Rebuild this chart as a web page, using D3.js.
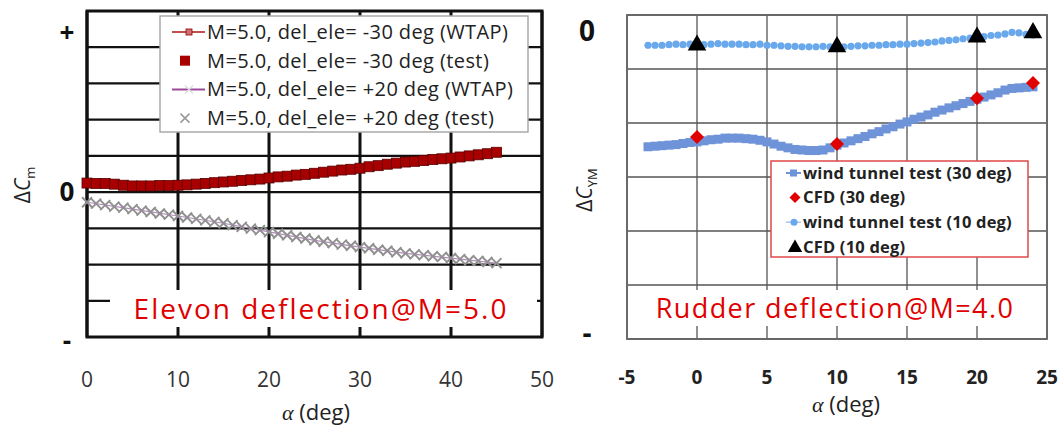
<!DOCTYPE html>
<html>
<head>
<meta charset="utf-8">
<script src="https://cdn.jsdelivr.net/npm/d3@7"></script>
<style>
  body { margin: 0; background: #fff; }
  svg { display: block; font-family: "Open Sans", sans-serif; }
</style>
</head>
<body>
<svg id="chart"></svg>
<script>
// ---- left panel: elevon deflection @ M=5.0 ----
const alphaElevon = [0,1,2,3,4,5,6,7,8,9,10,11,12,13,14,15,16,17,18,19,20,21,22,23,24,25,26,27,28,29,30,31,32,33,34,35,36,37,38,39,40,41,42,43,44,45];
const elevonNeg30Test = [0.25,0.24,0.24,0.22,0.19,0.17,0.17,0.17,0.18,0.18,0.19,0.20,0.22,0.24,0.26,0.28,0.30,0.32,0.34,0.36,0.39,0.42,0.44,0.47,0.49,0.52,0.55,0.58,0.61,0.63,0.66,0.70,0.73,0.77,0.80,0.83,0.85,0.87,0.90,0.92,0.94,0.97,1.00,1.03,1.06,1.10];
const elevonPos20Test = [-0.28,-0.32,-0.36,-0.40,-0.43,-0.47,-0.51,-0.55,-0.59,-0.62,-0.66,-0.70,-0.74,-0.78,-0.82,-0.86,-0.91,-0.96,-1.01,-1.05,-1.10,-1.15,-1.19,-1.24,-1.28,-1.33,-1.37,-1.41,-1.45,-1.48,-1.52,-1.55,-1.59,-1.62,-1.66,-1.69,-1.72,-1.74,-1.77,-1.79,-1.82,-1.85,-1.88,-1.90,-1.93,-1.96];
const alphaElevonWtap = [0,5,10,15,20,25,30,35,40,45];
const elevonNeg30Wtap = [0.25,0.17,0.19,0.28,0.39,0.52,0.66,0.83,0.94,1.10];
const elevonPos20Wtap = [-0.28,-0.47,-0.66,-0.86,-1.10,-1.33,-1.52,-1.69,-1.82,-1.96];
const elevonXTicks = [0,10,20,30,40,50];
const elevonYGrid = [-4,-3,-2,-1,0,1,2,3,4,5];
const elevonYLabels = [["+",4.4],["0",0],["-",-4.1]];
const elevonLegend = [
  "M=5.0, del_ele= -30 deg (WTAP)",
  "M=5.0, del_ele= -30 deg (test)",
  "M=5.0, del_ele= +20 deg (WTAP)",
  "M=5.0, del_ele= +20 deg (test)"
];

// ---- right panel: rudder deflection @ M=4.0 ----
const alphaRudder = [-3.5,-3,-2.5,-2,-1.5,-1,-0.5,0,0.5,1,1.5,2,2.5,3,3.5,4,4.5,5,5.5,6,6.5,7,7.5,8,8.5,9,9.5,10,10.5,11,11.5,12,12.5,13,13.5,14,14.5,15,15.5,16,16.5,17,17.5,18,18.5,19,19.5,20,20.5,21,21.5,22,22.5,23,23.5,24];
const rudder30Test = [-2.44,-2.43,-2.42,-2.41,-2.40,-2.38,-2.36,-2.35,-2.33,-2.31,-2.30,-2.28,-2.28,-2.28,-2.29,-2.30,-2.32,-2.35,-2.39,-2.43,-2.46,-2.49,-2.50,-2.51,-2.51,-2.50,-2.46,-2.41,-2.37,-2.33,-2.29,-2.25,-2.20,-2.16,-2.11,-2.07,-2.02,-1.98,-1.93,-1.89,-1.85,-1.80,-1.76,-1.72,-1.68,-1.64,-1.60,-1.56,-1.52,-1.48,-1.44,-1.39,-1.36,-1.35,-1.34,-1.33];
const rudder10Test = [-0.56,-0.56,-0.56,-0.55,-0.54,-0.55,-0.54,-0.54,-0.55,-0.54,-0.53,-0.54,-0.54,-0.54,-0.55,-0.55,-0.54,-0.56,-0.56,-0.57,-0.58,-0.58,-0.59,-0.59,-0.59,-0.58,-0.59,-0.59,-0.59,-0.58,-0.57,-0.57,-0.56,-0.56,-0.55,-0.55,-0.54,-0.54,-0.53,-0.52,-0.51,-0.50,-0.48,-0.47,-0.46,-0.44,-0.43,-0.41,-0.40,-0.38,-0.37,-0.35,-0.32,-0.33,-0.36,-0.37];
const alphaCfd = [0,10,20,24];
const rudder30Cfd = [-2.26,-2.39,-1.54,-1.26];
const rudder10Cfd = [-0.56,-0.59,-0.41,-0.33];
const rudderXTicks = [-5,0,5,10,15,20,25];
const rudderYGrid = [-6,-5,-4,-3,-2,-1,0];
const rudderYLabels = [["0",-0.3],["-",-5.9]];
const rudderLegend = [
  "wind tunnel test (30 deg)",
  "CFD (30 deg)",
  "wind tunnel test (10 deg)",
  "CFD (10 deg)"
];

const svg = d3.select("#chart").attr("width", 1061).attr("height", 427);

const xMark = s => `M${-s},${-s}L${s},${s}M${-s},${s}L${s},${-s}`;
const diamond = s => `M0,${-s}L${s},0L0,${s}L${-s},0Z`;

function grid(g, x, y, xt, yt, color, wx, wy) {
  g.append("g").selectAll("line").data(xt).join("line")
    .attr("x1", d => x(d)).attr("x2", d => x(d))
    .attr("y1", y.range()[0]).attr("y2", y.range()[1])
    .attr("stroke", color).attr("stroke-width", wx);
  g.append("g").selectAll("line").data(yt).join("line")
    .attr("y1", d => y(d)).attr("y2", d => y(d))
    .attr("x1", x.range()[0]).attr("x2", x.range()[1])
    .attr("stroke", color).attr("stroke-width", wy);
}

// ================= LEFT =================
const xL = d3.scaleLinear().domain([0, 50]).range([87, 542]);
const yL = d3.scaleLinear().domain([-4, 5]).range([337, 11]);
const gL = svg.append("g");

grid(gL, xL, yL, elevonXTicks, elevonYGrid, "#111", 3, 2.2);
gL.append("rect")
  .attr("x", xL(0)).attr("y", yL(5))
  .attr("width", xL(50) - xL(0)).attr("height", yL(-4) - yL(5))
  .attr("fill", "none").attr("stroke", "#111").attr("stroke-width", 3);

// title box
gL.append("rect").attr("x", 110).attr("y", 290).attr("width", 427).attr("height", 37).attr("fill", "#fff");
gL.append("text").attr("x", 321).attr("y", 319).attr("text-anchor", "middle")
  .attr("font-size", 28).attr("letter-spacing", 2).attr("fill", "#e00000")
  .text("Elevon deflection@M=5.0");

// WTAP lines
const lineL = (xs, ys) => d3.line().x((d, i) => xL(xs[i])).y(d => yL(d))(ys);
gL.append("path").attr("d", lineL(alphaElevonWtap, elevonPos20Wtap))
  .attr("fill", "none").attr("stroke", "#b58ac0").attr("stroke-width", 1.2);
gL.append("path").attr("d", lineL(alphaElevonWtap, elevonNeg30Wtap))
  .attr("fill", "none").attr("stroke", "#c0504d").attr("stroke-width", 2);

// test markers
gL.append("g").selectAll("path").data(elevonPos20Test).join("path")
  .attr("transform", (d, i) => `translate(${xL(alphaElevon[i])},${yL(d)})`)
  .attr("d", xMark(5)).attr("stroke", "#909090").attr("stroke-width", 1.9).attr("fill", "none");
gL.append("g").selectAll("rect").data(elevonNeg30Test).join("rect")
  .attr("x", (d, i) => xL(alphaElevon[i]) - 5).attr("y", d => yL(d) - 5)
  .attr("width", 10).attr("height", 10)
  .attr("fill", "#a80000").attr("stroke", "#5a0000").attr("stroke-width", 0.8);

// y labels
gL.append("g").selectAll("text").data(elevonYLabels).join("text")
  .attr("x", 67).attr("y", d => yL(d[1])).attr("dy", "0.35em")
  .attr("text-anchor", "middle").attr("font-size", 26).attr("font-weight", "bold").attr("fill", "#111")
  .text(d => d[0]);

// x labels
gL.append("g").selectAll("text").data(elevonXTicks).join("text")
  .attr("x", d => xL(d)).attr("y", 380).attr("dy", "0.35em")
  .attr("text-anchor", "middle").attr("font-size", 21).attr("fill", "#333")
  .text(d => d);

const tL = gL.append("text").attr("x", 316).attr("y", 420).attr("text-anchor", "middle")
  .attr("font-size", 22).attr("fill", "#222");
tL.append("tspan").attr("font-family", "Liberation Serif").attr("font-style", "italic").text("α");
tL.append("tspan").text(" (deg)");

const yTL = gL.append("text").attr("transform", "translate(30,185) rotate(-90)")
  .attr("text-anchor", "middle").attr("font-size", 21).attr("fill", "#222");
yTL.append("tspan").text("Δ");
yTL.append("tspan").attr("font-style", "italic").text("C");
yTL.append("tspan").attr("font-size", 13).attr("dy", 5).text("m");

// legend
const lg = gL.append("g");
lg.append("rect").attr("x", 160).attr("y", 16).attr("width", 368).attr("height", 116)
  .attr("fill", "#fff").attr("stroke", "#aaa").attr("stroke-width", 1.5);
const row = lg.selectAll("g").data(elevonLegend).join("g")
  .attr("transform", (d, i) => `translate(0,${32 + i * 28.7})`);
row.append("text").attr("x", 207).attr("dy", "0.35em").attr("font-size", 20)
  .attr("letter-spacing", 0.4).attr("fill", "#222").text(d => d);
row.filter((d, i) => i === 0 || i === 2).append("line")
  .attr("x1", 172).attr("x2", 205)
  .attr("stroke", (d, i) => i === 0 ? "#c0504d" : "#9b4a9b").attr("stroke-width", 2);
row.filter((d, i) => i === 0).append("rect")
  .attr("x", 186).attr("y", -3).attr("width", 6).attr("height", 6)
  .attr("fill", "#d07070").attr("stroke", "#8b0000").attr("stroke-width", 0.8);
row.filter((d, i) => i === 1).append("rect")
  .attr("x", 180).attr("y", -5).attr("width", 10).attr("height", 10).attr("fill", "#a80000");
row.filter((d, i) => i === 2).append("path").attr("transform", "translate(189,0)")
  .attr("d", xMark(4)).attr("stroke", "#ddd").attr("stroke-width", 1.4);
row.filter((d, i) => i === 3).append("path").attr("transform", "translate(185,0)")
  .attr("d", xMark(4.5)).attr("stroke", "#999").attr("stroke-width", 1.5);

// ================= RIGHT =================
const xR = d3.scaleLinear().domain([-5, 25]).range([627, 1047]);
const yR = d3.scaleLinear().domain([-6, 0]).range([339, 15]);
const gR = svg.append("g");

grid(gR, xR, yR, rudderXTicks, rudderYGrid, "#555", 1.3, 1.3);
gR.append("rect")
  .attr("x", xR(-5)).attr("y", yR(0))
  .attr("width", xR(25) - xR(-5)).attr("height", yR(-6) - yR(0))
  .attr("fill", "none").attr("stroke", "#666").attr("stroke-width", 1.8);

gR.append("rect").attr("x", 645).attr("y", 290).attr("width", 395).attr("height", 36).attr("fill", "#fff");
gR.append("text").attr("x", 835).attr("y", 318).attr("text-anchor", "middle")
  .attr("font-size", 27).attr("letter-spacing", 1.4).attr("fill", "#e00000")
  .text("Rudder deflection@M=4.0");

gR.append("g").selectAll("rect").data(rudder30Test).join("rect")
  .attr("x", (d, i) => xR(alphaRudder[i]) - 4.5).attr("y", d => yR(d) - 4.5)
  .attr("width", 9).attr("height", 9).attr("fill", "#6f93d8");
gR.append("g").selectAll("circle").data(rudder10Test).join("circle")
  .attr("cx", (d, i) => xR(alphaRudder[i])).attr("cy", d => yR(d))
  .attr("r", 3.6).attr("fill", "#6aa8ec");
gR.append("g").selectAll("path").data(rudder30Cfd).join("path")
  .attr("transform", (d, i) => `translate(${xR(alphaCfd[i])},${yR(d)})`)
  .attr("d", diamond(7)).attr("fill", "#e00000");
gR.append("g").selectAll("path").data(rudder10Cfd).join("path")
  .attr("transform", (d, i) => `translate(${xR(alphaCfd[i])},${yR(d)})`)
  .attr("d", d3.symbol(d3.symbolTriangle, 150)).attr("fill", "#000");

gR.append("g").selectAll("text").data(rudderYLabels).join("text")
  .attr("x", 587).attr("y", d => yR(d[1])).attr("dy", "0.35em")
  .attr("text-anchor", "middle").attr("font-size", 28).attr("font-weight", "bold").attr("fill", "#111")
  .text(d => d[0]);

gR.append("g").selectAll("text").data(rudderXTicks).join("text")
  .attr("x", d => xR(d)).attr("y", 377).attr("dy", "0.35em")
  .attr("text-anchor", "middle").attr("font-size", 19).attr("font-weight", "bold").attr("fill", "#222")
  .text(d => d);

const tR = gR.append("text").attr("x", 846).attr("y", 412).attr("text-anchor", "middle")
  .attr("font-size", 22).attr("fill", "#222");
tR.append("tspan").attr("font-family", "Liberation Serif").attr("font-style", "italic").text("α");
tR.append("tspan").text(" (deg)");

const yTR = gR.append("text").attr("transform", "translate(592,190) rotate(-90)")
  .attr("text-anchor", "middle").attr("font-size", 21).attr("fill", "#222");
yTR.append("tspan").text("Δ");
yTR.append("tspan").attr("font-style", "italic").text("C");
yTR.append("tspan").attr("font-size", 13).attr("dy", 5).text("YM");

const lgR = gR.append("g");
lgR.append("rect").attr("x", 771).attr("y", 161).attr("width", 257).attr("height", 96)
  .attr("fill", "#fff").attr("stroke", "#e04848").attr("stroke-width", 1.5);
const rowR = lgR.selectAll("g").data(rudderLegend).join("g")
  .attr("transform", (d, i) => `translate(0,${173 + i * 24.6})`);
rowR.append("text").attr("x", 803).attr("dy", "0.35em").attr("font-size", 16.5)
  .attr("letter-spacing", 0.2).attr("font-weight", "bold").attr("fill", "#222").text(d => d);
rowR.filter((d, i) => i === 0).call(r => {
  r.append("line").attr("x1", 786).attr("x2", 801).attr("stroke", "#6f93d8").attr("stroke-width", 2);
  r.append("rect").attr("x", 790).attr("y", -3.5).attr("width", 7).attr("height", 7).attr("fill", "#6f93d8");
});
rowR.filter((d, i) => i === 1).append("path").attr("transform", "translate(795,0)")
  .attr("d", diamond(5.5)).attr("fill", "#e00000");
rowR.filter((d, i) => i === 2).call(r => {
  r.append("line").attr("x1", 786).attr("x2", 801).attr("stroke", "#a8c8f0").attr("stroke-width", 1.5);
  r.append("circle").attr("cx", 794).attr("r", 3.5).attr("fill", "#6aa8ec");
});
rowR.filter((d, i) => i === 3).append("path").attr("transform", "translate(795,1)")
  .attr("d", d3.symbol(d3.symbolTriangle, 90)).attr("fill", "#000");
</script>
</body>
</html>
